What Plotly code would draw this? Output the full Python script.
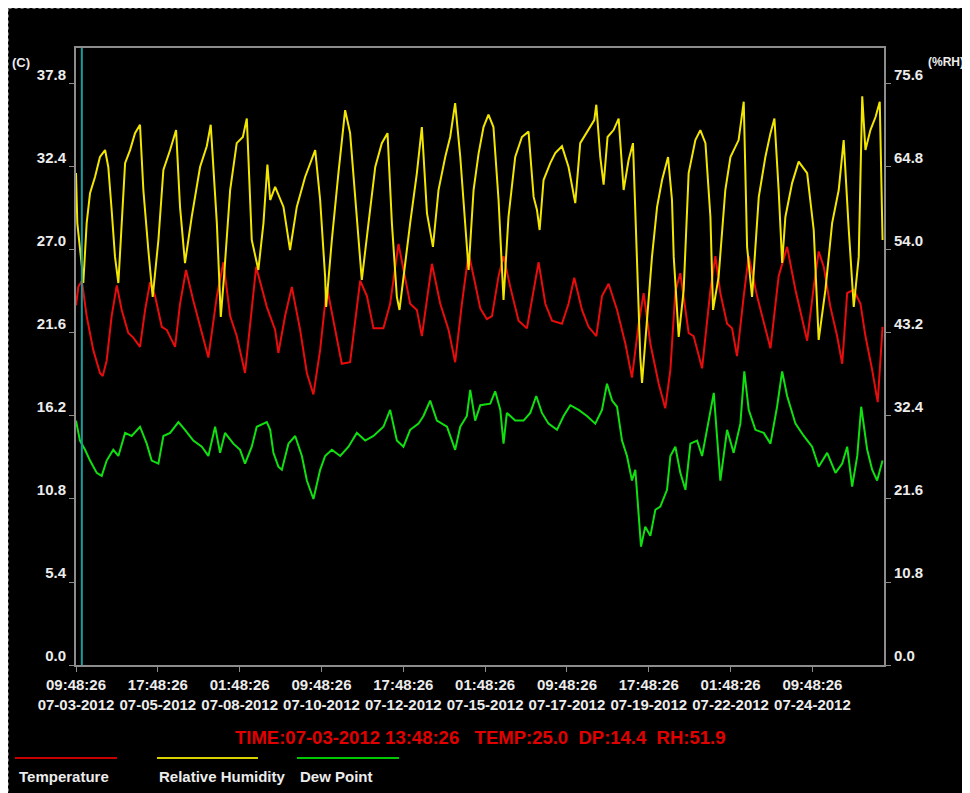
import plotly.graph_objects as go
import pandas as pd

START = "2012-07-03 09:48:26"
END_HOURS = 553

# Temperature (C) : hours after start, values
temp_hours = [0, 1.6, 4.0, 7.3, 11.8, 16.4, 18.3, 21.0, 24.4, 27.9, 31.3, 35.8, 39.2, 43.8, 47.3, 50.7, 54.1,
              58.7, 62.1, 67.8, 71.2, 75.3, 80.3, 86.1, 90.6, 96.4, 100.9, 105.5, 110.0, 115.7, 119.2, 123.3,
              130.6, 136.3, 138.5, 143.1, 147.7, 153.4, 158.0, 162.5, 167.1, 171.7, 176.2, 181.9, 187.6, 194.5,
              199.1, 203.6, 210.4, 215.0, 220.7, 224.1, 228.7, 233.3, 236.7, 243.6, 249.3, 255.0, 259.5, 264.1,
              268.7, 273.2, 276.7, 281.2, 284.7, 289.2, 292.6, 297.2, 302.9, 308.6, 313.2, 316.6, 321.2, 325.8,
              332.6, 337.1, 341.0, 346.3, 350.8, 356.1, 360.0, 364.5, 370.3, 376.0, 380.5, 385.1, 388.5, 393.1,
              398.8, 403.3, 406.8, 410.2, 413.6, 415.9, 419.3, 422.7, 428.5, 434.2, 437.6, 441.0, 445.6, 449.0,
              452.4, 457.0, 460.4, 466.1, 471.8, 475.3, 480.9, 486.7, 492.4, 497.0, 500.4, 504.9, 508.3, 511.8,
              516.3, 520.9, 524.4, 527.8, 532.3, 536.9, 540.3, 544.9, 548.7, 552.0]
temp_vals = [23.4, 24.6, 25.0, 22.7, 20.5, 19.0, 18.8, 19.8, 22.7, 24.7, 23.1, 21.6, 21.3, 20.7, 23.1, 24.9, 24.0,
             22.0, 21.8, 20.7, 23.5, 25.7, 23.7, 21.6, 20.0, 24.0, 26.2, 22.7, 21.4, 19.0, 22.2, 25.9,
             23.3, 21.8, 20.3, 22.7, 24.6, 21.8, 19.0, 17.6, 20.5, 24.6, 22.4, 19.6, 19.7, 25.0,
             24.0, 21.9, 21.9, 23.5, 27.4, 25.7, 23.5, 23.1, 21.4, 26.1, 23.5, 21.8, 19.7, 23.5,
             26.8, 24.8, 23.2, 22.5, 22.7, 25.3, 26.6, 24.6, 22.4, 21.9, 24.4, 26.2, 23.5, 22.4,
             22.2, 23.5, 25.2, 23.1, 22.0, 21.4, 24.0, 24.8, 23.1, 20.9, 18.7, 22.2, 24.2, 20.9,
             18.3, 16.7, 19.2, 24.3, 25.5, 24.0, 21.6, 21.4, 19.3, 24.4, 26.6, 24.2, 22.2, 21.9,
             20.1, 24.0, 26.6, 24.0, 21.8, 20.6, 25.3, 27.2, 24.4, 22.4, 21.1, 24.6, 26.9, 25.9,
             23.3, 21.4, 19.6, 24.2, 24.4, 23.5, 21.4, 19.2, 17.1, 22.0]

# Relative humidity (%RH)
rh_hours = [0, 0.9, 4.0, 5.0, 7.3, 9.6, 13.0, 16.4, 19.9, 22.1, 24.4, 26.7, 29.0, 31.3, 33.6, 37.0, 40.4, 43.8,
            46.1, 49.5, 52.5, 56.4, 59.8, 64.4, 68.5, 71.2, 74.6, 79.2, 84.9, 89.5, 92.2, 96.4, 99.1, 101.3,
            105.5, 110.0, 114.2, 116.9, 120.3, 124.8, 128.3, 131.0, 132.9, 136.3, 142.0, 146.5, 151.1, 156.8,
            160.2, 163.7, 167.1, 170.5, 171.2, 175.1, 179.6, 184.2, 187.6, 191.1, 195.6, 200.2, 204.8, 209.3,
            213.2, 216.2, 219.6, 221.4, 224.1, 228.7, 233.3, 236.7, 240.2, 244.3, 248.1, 252.7, 256.1, 259.5,
            263.0, 266.4, 268.7, 272.1, 275.5, 278.9, 282.3, 285.7, 289.2, 292.6, 296.0, 300.6, 305.2, 309.7,
            313.2, 315.5, 317.3, 320.0, 324.6, 328.0, 332.6, 337.1, 341.7, 345.1, 350.8, 354.7, 356.1, 358.8,
            361.1, 363.8, 367.9, 371.4, 374.8, 378.2, 381.2, 384.0, 386.2, 387.4, 390.8, 394.2, 397.7, 401.1,
            405.2, 407.9, 409.1, 412.5, 415.9, 419.3, 423.9, 427.3, 430.8, 434.2, 436.0, 439.8, 444.4, 447.9,
            453.5, 457.0, 459.3, 462.7, 467.3, 471.8, 475.3, 478.0, 480.9, 483.3, 485.5, 490.1, 494.6, 500.4,
            504.9, 508.3, 512.9, 517.5, 522.0, 525.4, 528.9, 532.3, 535.7, 538.1, 540.3, 543.7, 547.2, 550.1,
            552.0]
rh_vals = [64.0, 57.5, 51.9, 49.7, 57.5, 61.4, 63.5, 66.1, 67.0, 64.8, 59.2, 53.1, 49.7, 57.5, 65.3, 67.0, 69.2, 70.3,
           61.8, 54.0, 47.9, 55.3, 64.4, 67.0, 69.6, 59.6, 52.3, 58.3, 64.8, 67.5, 70.3, 57.5, 45.3, 50.5,
           61.8, 67.9, 68.7, 71.1, 55.3, 51.4, 57.5, 65.1, 60.5, 62.2, 59.6, 54.0, 59.6, 63.5,
           65.3, 67.0, 60.5, 50.5, 46.6, 55.3, 64.0, 72.2, 69.2, 60.5, 50.1, 57.5, 64.8, 67.9,
           69.2, 57.5, 47.9, 46.2, 50.5, 57.5, 64.0, 70.0, 58.8, 54.4, 61.8, 66.1, 68.7, 73.1,
           66.1, 56.6, 51.4, 61.8, 66.5, 70.0, 71.6, 70.0, 60.5, 47.5, 58.3, 66.1, 68.7, 69.4,
           60.9, 59.2, 56.6, 63.1, 65.3, 66.6, 67.5, 64.8, 60.1, 67.9, 69.6, 70.9, 72.9, 66.1,
           62.5, 68.7, 69.6, 71.1, 61.8, 65.7, 67.9, 53.1, 40.1, 36.7, 44.5, 53.1, 59.6, 63.1,
           66.1, 60.5, 53.1, 42.7, 48.8, 64.0, 68.3, 69.6, 67.9, 58.3, 46.2, 50.5, 61.8, 66.1,
           68.3, 73.3, 54.4, 47.9, 60.9, 66.1, 69.2, 71.1, 61.8, 52.3, 58.3, 62.7, 65.5, 64.0,
           56.6, 42.3, 48.8, 57.5, 61.8, 68.3, 56.6, 46.6, 53.1, 74.0, 67.0, 69.6, 71.3, 73.3,
           55.3]

# Dew point (C)
dp_hours = [0, 2.7, 6.2, 9.6, 14.2, 17.6, 21.0, 25.5, 29.0, 33.6, 38.1, 43.8, 48.4, 51.8, 56.4, 59.8, 64.4, 70.1,
            74.6, 80.3, 86.1, 90.6, 95.2, 98.6, 102.0, 107.7, 112.3, 115.7, 120.3, 123.7, 130.6, 132.9, 135.1,
            138.5, 140.9, 145.4, 150.0, 154.6, 158.0, 162.5, 167.1, 170.5, 175.1, 180.8, 186.5, 192.2, 197.9,
            203.6, 210.4, 215.0, 219.6, 224.1, 228.7, 234.4, 237.8, 242.4, 247.0, 253.9, 259.5, 263.0, 267.5,
            269.8, 273.2, 276.7, 283.5, 286.9, 290.4, 292.6, 294.9, 300.6, 306.3, 310.9, 315.0, 318.9, 323.4,
            329.2, 333.7, 338.3, 344.0, 349.7, 355.4, 360.0, 363.4, 366.9, 370.3, 373.7, 377.1, 380.5, 382.8,
            385.1, 386.7, 389.6, 393.1, 396.5, 399.9, 404.5, 406.8, 410.2, 413.6, 417.1, 420.5, 425.1, 428.5,
            433.0, 436.5, 438.7, 441.0, 445.6, 450.1, 454.7, 457.4, 460.4, 465.0, 470.7, 475.3, 479.8, 483.3,
            486.7, 492.4, 498.1, 503.8, 508.3, 514.1, 519.8, 524.4, 527.8, 531.2, 534.7, 537.4, 541.5, 544.9,
            548.3, 552.0]
dp_vals = [15.9, 14.6, 14.0, 13.3, 12.5, 12.3, 13.3, 14.0, 13.6, 15.1, 14.9, 15.5, 14.4, 13.3, 13.1, 14.9, 15.1, 15.8,
           15.3, 14.6, 14.2, 13.6, 15.5, 13.8, 15.1, 14.4, 14.0, 13.1, 14.2, 15.5, 15.8, 15.3, 13.8,
           12.9, 12.7, 14.4, 14.9, 13.6, 12.0, 10.8, 12.7, 13.6, 14.0, 13.6, 14.2, 15.1, 14.6,
           14.9, 15.5, 16.6, 14.6, 14.2, 15.3, 15.7, 16.2, 17.2, 15.9, 15.5, 14.0, 15.5, 16.2,
           17.9, 15.9, 16.9, 17.0, 17.8, 16.6, 14.4, 16.4, 15.9, 15.9, 16.4, 17.5, 16.4, 15.7,
           15.3, 16.2, 16.9, 16.6, 16.2, 15.7, 16.6, 18.3, 17.2, 16.8, 14.6, 13.6, 12.0, 12.7,
           9.6, 7.7, 9.0, 8.4, 10.1, 10.3, 11.4, 13.6, 14.2, 12.5, 11.4, 14.4, 14.6, 13.6,
           15.9, 17.7, 14.9, 12.0, 15.3, 13.8, 15.7, 19.1, 16.6, 15.3, 15.1, 14.4, 16.8, 19.1,
           17.5, 15.7, 14.9, 14.2, 12.9, 13.8, 12.5, 13.1, 14.2, 11.6, 13.6, 16.8, 14.0, 12.7,
           12.0, 13.3]

# Axis ticks
x_tick_hours = [0, 56, 112, 168, 224, 280, 336, 392, 448, 504]
x_tick_text = ["09:48:26<br>07-03-2012", "17:48:26<br>07-05-2012", "01:48:26<br>07-08-2012",
               "09:48:26<br>07-10-2012", "17:48:26<br>07-12-2012", "01:48:26<br>07-15-2012",
               "09:48:26<br>07-17-2012", "17:48:26<br>07-19-2012", "01:48:26<br>07-22-2012",
               "09:48:26<br>07-24-2012"]
c_ticks = [0.0, 5.4, 10.8, 16.2, 21.6, 27.0, 32.4, 37.8]
rh_ticks = [0.0, 10.8, 21.6, 32.4, 43.2, 54.0, 64.8, 75.6]
cursor_hours = 4
cursor_label = "TIME:07-03-2012 13:48:26\u00a0\u00a0\u00a0TEMP:25.0\u00a0\u00a0DP:14.4\u00a0\u00a0RH:51.9"

start = pd.Timestamp(START)
def to_t(hours):
    return start + pd.to_timedelta(pd.Series(hours, dtype=float), unit="h")

RED = "#e80c0c"
YELLOW = "#f2e600"
GREEN = "#10e010"
FONT = "Liberation Sans, Arial, sans-serif"

fig = go.Figure()
fig.add_trace(go.Scatter(x=to_t(temp_hours), y=temp_vals, mode="lines", name="Temperature",
                         line=dict(color=RED, width=2)))
fig.add_trace(go.Scatter(x=to_t(dp_hours), y=dp_vals, mode="lines", name="Dew Point",
                         line=dict(color=GREEN, width=2)))
fig.add_trace(go.Scatter(x=to_t(rh_hours), y=rh_vals, mode="lines", name="Relative Humidity",
                         line=dict(color=YELLOW, width=2), yaxis="y2"))

axis_col = "#8c8c8c"
tickfont = dict(family=FONT, size=15, color="#ececec", weight="bold")

fig.update_layout(
    width=962, height=785,
    paper_bgcolor="black", plot_bgcolor="black",
    margin=dict(l=68, r=86, t=40, b=128),
    showlegend=False,
    xaxis=dict(
        type="date",
        range=[start, start + pd.Timedelta(hours=END_HOURS)],
        tickvals=list(to_t(x_tick_hours)), ticktext=x_tick_text,
        tickangle=0, automargin=False,
        showgrid=False, zeroline=False,
        showline=True, linecolor=axis_col, linewidth=2, mirror=True,
        ticks="outside", ticklen=5, tickcolor=axis_col,
        tickfont=dict(family=FONT, size=15, color="#ececec", weight="bold"),
    ),
    yaxis=dict(
        range=[0, 40.14], tickvals=c_ticks, tickformat=".1f", automargin=False,
        showgrid=False, zeroline=False,
        showline=True, linecolor=axis_col, linewidth=2,
        ticks="outside", ticklen=5, tickcolor=axis_col,
        tickfont=tickfont, ticklabelshift=-9,
    ),
    yaxis2=dict(
        range=[0, 80.28], tickvals=rh_ticks, tickformat=".1f", automargin=False,
        overlaying="y", side="right",
        showgrid=False, zeroline=False,
        showline=True, linecolor=axis_col, linewidth=2,
        ticks="outside", ticklen=5, tickcolor=axis_col,
        tickfont=tickfont, ticklabelshift=-9,
    ),
)

# cursor line
fig.add_shape(type="line", xref="x", yref="paper",
              x0=start + pd.Timedelta(hours=cursor_hours), x1=start + pd.Timedelta(hours=cursor_hours),
              y0=0, y1=1, line=dict(color="#1a9a9a", width=2))

# outer dotted frame (at the figure's top and left edges)
fig.add_shape(type="line", xref="paper", yref="paper", x0=-0.0835, x1=1.11, y0=1.0640, y1=1.0640,
              line=dict(color="#777777", width=1, dash="dot"))
fig.add_shape(type="line", xref="paper", yref="paper", x0=-0.0835, x1=-0.0835, y0=1.0640, y1=-0.21,
              line=dict(color="#777777", width=1, dash="dot"))

# axis unit labels
fig.add_annotation(text="(C)", xref="paper", yref="paper", x=-0.0817, y=0.977, xanchor="left",
                   yanchor="middle", showarrow=False,
                   font=dict(family=FONT, size=13, color="#ececec", weight="bold"))
fig.add_annotation(text="(%RH)", xref="paper", yref="paper", x=1.102, y=0.977, xanchor="right",
                   yanchor="middle", showarrow=False,
                   font=dict(family=FONT, size=12, color="#ececec", weight="bold"))

# cursor readout
fig.add_annotation(text=cursor_label, xref="paper", yref="paper", x=0.1943, y=-0.1183, xanchor="left",
                   yanchor="middle", showarrow=False,
                   font=dict(family=FONT, size=18.5, color="#e00000", weight="bold"))

# custom legend
legend_items = [("Temperature", "#c80000", -0.0755, 0.0507, -0.073),
                ("Relative Humidity", "#d8d000", 0.1002, 0.2252, 0.1002),
                ("Dew Point", "#00c800", 0.2735, 0.3998, 0.2748)]
for name, col, lx0, lx1, tx in legend_items:
    fig.add_shape(type="line", xref="paper", yref="paper", x0=lx0, x1=lx1, y0=-0.1507, y1=-0.1507,
                  line=dict(color=col, width=2))
    fig.add_annotation(text=name, xref="paper", yref="paper", x=tx, y=-0.1815, xanchor="left",
                       yanchor="middle", showarrow=False,
                       font=dict(family=FONT, size=15, color="#ececec", weight="bold"))

fig.write_html("out.html")
